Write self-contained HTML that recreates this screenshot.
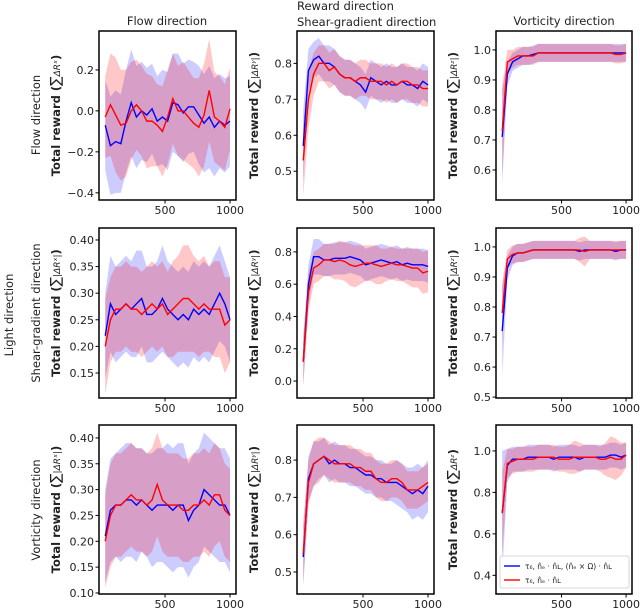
<!DOCTYPE html>
<html><head><meta charset="utf-8"><style>
body{margin:0;background:#fff}
svg{display:block;font-family:"DejaVu Sans","Liberation Sans",sans-serif}
</style></head><body>
<svg id="fig" width="640" height="608" viewBox="0 0 640 608"></svg>
<script>
const xs=[40,80,120,160,200,240,280,320,360,400,440,480,520,560,600,640,680,720,760,800,840,880,920,960,1000];
const xTicks=[500,1000];
// Panel 1: flow light / flow reward
const p1Blue=[-0.07,-0.17,-0.15,-0.16,-0.05,0.04,-0.03,0.0,-0.02,0.01,-0.05,-0.03,-0.05,0.04,0.03,-0.01,0.02,0.02,-0.02,-0.06,-0.03,-0.08,-0.05,-0.07,-0.05];
const p1Red=[-0.03,0.03,-0.02,-0.07,-0.06,0.0,0.03,0.0,-0.05,-0.05,-0.07,-0.1,-0.03,0.06,0.0,0.0,-0.03,-0.06,-0.08,-0.02,0.1,-0.03,-0.05,-0.08,0.01];
const p1BlueW=[0.22,0.24,0.25,0.24,0.25,0.26,0.25,0.24,0.23,0.22,0.22,0.23,0.24,0.24,0.25,0.24,0.23,0.22,0.24,0.24,0.25,0.24,0.23,0.23,0.22];
const p1RedW=[0.2,0.25,0.28,0.27,0.26,0.24,0.22,0.22,0.23,0.22,0.2,0.22,0.23,0.22,0.22,0.24,0.23,0.22,0.24,0.25,0.25,0.22,0.22,0.21,0.2];
const p2Blue=[0.57,0.78,0.81,0.82,0.8,0.8,0.79,0.77,0.76,0.76,0.75,0.74,0.72,0.76,0.75,0.74,0.75,0.74,0.74,0.75,0.74,0.74,0.73,0.75,0.74];
const p2Red=[0.53,0.7,0.77,0.8,0.8,0.78,0.79,0.77,0.76,0.76,0.75,0.76,0.76,0.75,0.75,0.75,0.74,0.75,0.74,0.75,0.75,0.74,0.74,0.73,0.73];
const p2BlueW=[0.1,0.06,0.05,0.05,0.05,0.05,0.05,0.05,0.05,0.05,0.05,0.05,0.05,0.05,0.05,0.05,0.05,0.05,0.05,0.05,0.05,0.05,0.05,0.05,0.05];
const p2RedW=[0.1,0.08,0.06,0.05,0.05,0.05,0.05,0.05,0.05,0.05,0.05,0.05,0.05,0.05,0.05,0.05,0.05,0.05,0.05,0.05,0.05,0.05,0.05,0.05,0.05];
const p3Blue=[0.71,0.92,0.96,0.97,0.98,0.98,0.985,0.99,0.99,0.99,0.99,0.99,0.99,0.99,0.99,0.99,0.99,0.99,0.99,0.99,0.99,0.99,0.99,0.99,0.99];
const p3Red=[0.73,0.96,0.97,0.98,0.98,0.98,0.98,0.99,0.99,0.99,0.99,0.99,0.99,0.99,0.99,0.99,0.99,0.99,0.99,0.99,0.99,0.99,0.985,0.985,0.99];
const p3BlueW=[0.16,0.04,0.03,0.03,0.03,0.03,0.03,0.03,0.03,0.03,0.03,0.03,0.03,0.03,0.03,0.03,0.03,0.03,0.03,0.03,0.03,0.03,0.03,0.03,0.03];
const p3RedW=[0.15,0.04,0.03,0.03,0.03,0.03,0.03,0.03,0.03,0.03,0.03,0.03,0.03,0.03,0.03,0.03,0.03,0.03,0.03,0.03,0.03,0.03,0.03,0.03,0.03];
const p4Blue=[0.22,0.28,0.26,0.27,0.28,0.27,0.28,0.29,0.26,0.26,0.27,0.29,0.27,0.26,0.25,0.26,0.25,0.27,0.26,0.27,0.26,0.28,0.3,0.28,0.25];
const p4Red=[0.2,0.25,0.27,0.27,0.28,0.27,0.27,0.26,0.27,0.28,0.27,0.28,0.26,0.27,0.28,0.29,0.29,0.28,0.27,0.28,0.27,0.27,0.27,0.24,0.25];
const p4BlueW=[0.08,0.09,0.09,0.09,0.09,0.09,0.1,0.09,0.09,0.09,0.09,0.1,0.09,0.09,0.09,0.09,0.09,0.09,0.09,0.09,0.09,0.09,0.09,0.08,0.08];
const p4RedW=[0.09,0.08,0.08,0.08,0.08,0.08,0.08,0.08,0.08,0.08,0.08,0.08,0.08,0.09,0.09,0.1,0.1,0.09,0.09,0.09,0.08,0.09,0.09,0.09,0.08];
const p5Blue=[0.12,0.6,0.77,0.77,0.75,0.75,0.76,0.76,0.76,0.77,0.76,0.75,0.72,0.73,0.74,0.75,0.74,0.73,0.74,0.72,0.73,0.72,0.72,0.72,0.71];
const p5Red=[0.12,0.55,0.7,0.72,0.75,0.75,0.74,0.75,0.74,0.72,0.71,0.72,0.73,0.73,0.72,0.71,0.72,0.73,0.72,0.72,0.71,0.7,0.7,0.67,0.68];
const p5BlueW=[0.15,0.12,0.11,0.11,0.1,0.1,0.1,0.1,0.1,0.1,0.1,0.1,0.1,0.1,0.1,0.1,0.1,0.1,0.1,0.1,0.1,0.1,0.1,0.1,0.1];
const p5RedW=[0.15,0.12,0.1,0.1,0.1,0.1,0.11,0.12,0.12,0.13,0.13,0.12,0.11,0.11,0.12,0.11,0.1,0.1,0.1,0.1,0.11,0.12,0.12,0.13,0.13];
const p6Blue=[0.72,0.93,0.97,0.98,0.98,0.985,0.99,0.99,0.99,0.99,0.99,0.99,0.99,0.99,0.99,0.985,0.99,0.99,0.99,0.99,0.99,0.99,0.985,0.99,0.99];
const p6Red=[0.78,0.96,0.975,0.98,0.98,0.985,0.99,0.99,0.99,0.99,0.99,0.99,0.99,0.99,0.99,0.99,0.985,0.99,0.99,0.99,0.99,0.99,0.99,0.99,0.99];
const p6BlueW=[0.15,0.04,0.03,0.03,0.03,0.03,0.03,0.03,0.03,0.03,0.03,0.03,0.03,0.03,0.03,0.03,0.03,0.03,0.03,0.03,0.03,0.03,0.03,0.03,0.03];
const p6RedW=[0.1,0.03,0.03,0.03,0.03,0.03,0.03,0.03,0.03,0.03,0.03,0.03,0.03,0.03,0.03,0.04,0.05,0.03,0.03,0.03,0.03,0.03,0.03,0.03,0.03];
const p7Blue=[0.21,0.26,0.27,0.27,0.28,0.28,0.27,0.28,0.27,0.26,0.27,0.27,0.27,0.26,0.27,0.27,0.24,0.26,0.27,0.3,0.29,0.28,0.27,0.27,0.25];
const p7Red=[0.2,0.25,0.27,0.27,0.28,0.29,0.28,0.28,0.27,0.28,0.31,0.28,0.27,0.27,0.27,0.26,0.26,0.27,0.27,0.28,0.27,0.29,0.29,0.26,0.25];
const p7BlueW=[0.09,0.1,0.1,0.11,0.11,0.11,0.11,0.1,0.1,0.11,0.11,0.11,0.12,0.12,0.12,0.12,0.11,0.11,0.11,0.11,0.11,0.11,0.11,0.11,0.11];
const p7RedW=[0.09,0.1,0.1,0.1,0.1,0.1,0.1,0.1,0.1,0.1,0.1,0.1,0.1,0.1,0.1,0.1,0.1,0.1,0.1,0.1,0.1,0.1,0.09,0.09,0.09];
const p8Blue=[0.54,0.75,0.79,0.8,0.81,0.79,0.8,0.79,0.79,0.78,0.78,0.77,0.76,0.76,0.75,0.75,0.74,0.74,0.74,0.73,0.72,0.71,0.72,0.71,0.73];
const p8Red=[0.55,0.74,0.79,0.8,0.81,0.8,0.79,0.79,0.79,0.79,0.78,0.78,0.77,0.77,0.75,0.74,0.74,0.75,0.75,0.74,0.72,0.72,0.72,0.73,0.74];
const p8BlueW=[0.08,0.06,0.06,0.05,0.05,0.05,0.05,0.05,0.05,0.05,0.05,0.05,0.05,0.05,0.05,0.05,0.05,0.05,0.06,0.06,0.06,0.07,0.07,0.07,0.07];
const p8RedW=[0.08,0.06,0.06,0.06,0.05,0.05,0.05,0.05,0.05,0.05,0.05,0.05,0.05,0.05,0.05,0.05,0.05,0.05,0.05,0.05,0.05,0.05,0.05,0.05,0.05];
const p9Blue=[0.7,0.93,0.96,0.96,0.96,0.97,0.97,0.97,0.97,0.97,0.96,0.97,0.97,0.97,0.97,0.96,0.97,0.97,0.97,0.97,0.97,0.98,0.98,0.97,0.98];
const p9Red=[0.7,0.94,0.95,0.96,0.96,0.96,0.96,0.97,0.97,0.97,0.97,0.96,0.96,0.96,0.97,0.97,0.97,0.97,0.97,0.96,0.96,0.97,0.96,0.96,0.98];
const p9BlueW=[0.3,0.08,0.06,0.06,0.06,0.06,0.06,0.06,0.06,0.06,0.06,0.06,0.06,0.06,0.06,0.06,0.06,0.06,0.06,0.06,0.06,0.06,0.06,0.06,0.06];
const p9RedW=[0.2,0.07,0.06,0.06,0.06,0.06,0.06,0.06,0.06,0.06,0.06,0.06,0.06,0.07,0.08,0.07,0.06,0.06,0.06,0.06,0.08,0.1,0.1,0.08,0.06];
const p1Ticks=[0.2,0.0,-0.2,-0.4], p2Ticks=[0.8,0.7,0.6,0.5], p3Ticks=[1.0,0.9,0.8,0.7,0.6];
const p4Ticks=[0.40,0.35,0.30,0.25,0.20,0.15], p5Ticks=[0.8,0.6,0.4,0.2,0.0], p6Ticks=[1.0,0.9,0.8,0.7,0.6,0.5];
const p7Ticks=[0.40,0.35,0.30,0.25,0.20,0.15,0.10], p8Ticks=[0.8,0.7,0.6,0.5], p9Ticks=[1.0,0.8,0.6,0.4];

const NS='http://www.w3.org/2000/svg';
const svg=document.getElementById('fig');
function mk(tag,attrs,parent){const e=document.createElementNS(NS,tag);for(const k in attrs)e.setAttribute(k,attrs[k]);(parent||svg).appendChild(e);return e;}
function txt(s,attrs,parent){const e=mk('text',attrs,parent);e.textContent=s;return e;}

const cols=[{l:99,r:236},{l:297,r:434},{l:496,r:632}];
const rows=[{t:31,b:200},{t:228,b:398},{t:425,b:594}];
const panels=[
 {r:0,c:0,y0:-0.435,y1:0.39,blue:p1Blue,red:p1Red,bw:p1BlueW,rw:p1RedW,ticks:p1Ticks,dec:1,sup:'ˣ',abs:false},
 {r:0,c:1,y0:0.42,y1:0.89,blue:p2Blue,red:p2Red,bw:p2BlueW,rw:p2RedW,ticks:p2Ticks,dec:1,sup:'ʸ',abs:true},
 {r:0,c:2,y0:0.50,y1:1.063,blue:p3Blue,red:p3Red,bw:p3BlueW,rw:p3RedW,ticks:p3Ticks,dec:1,sup:'ᶻ',abs:true},
 {r:1,c:0,y0:0.103,y1:0.4225,blue:p4Blue,red:p4Red,bw:p4BlueW,rw:p4RedW,ticks:p4Ticks,dec:2,sup:'ˣ',abs:true},
 {r:1,c:1,y0:-0.105,y1:0.948,blue:p5Blue,red:p5Red,bw:p5BlueW,rw:p5RedW,ticks:p5Ticks,dec:1,sup:'ʸ',abs:true},
 {r:1,c:2,y0:0.497,y1:1.063,blue:p6Blue,red:p6Red,bw:p6BlueW,rw:p6RedW,ticks:p6Ticks,dec:1,sup:'ᶻ',abs:true},
 {r:2,c:0,y0:0.098,y1:0.425,blue:p7Blue,red:p7Red,bw:p7BlueW,rw:p7RedW,ticks:p7Ticks,dec:2,sup:'ˣ',abs:true},
 {r:2,c:1,y0:0.441,y1:0.894,blue:p8Blue,red:p8Red,bw:p8BlueW,rw:p8RedW,ticks:p8Ticks,dec:1,sup:'ʸ',abs:true},
 {r:2,c:2,y0:0.31,y1:1.125,blue:p9Blue,red:p9Red,bw:p9BlueW,rw:p9RedW,ticks:p9Ticks,dec:1,sup:'ᶻ',abs:false}
];
const xMin=-8,xMax=1046;
panels.forEach((p,i)=>{
  const C=cols[p.c],R=rows[p.r];
  const X=v=>C.l+(v-xMin)/(xMax-xMin)*(C.r-C.l);
  const Y=v=>R.b-(v-p.y0)/(p.y1-p.y0)*(R.b-R.t);
  const g=mk('g',{});
  
  
  const cp='cp'+i;
  const cl=mk('clipPath',{id:cp},g);mk('rect',{x:C.l,y:R.t,width:C.r-C.l,height:R.b-R.t},cl);
  const inner=mk('g',{'clip-path':'url(#'+cp+')'},g);
  [['blue',p.blue,p.bw,'rgba(0,0,255,0.2)','#0000ff'],['red',p.red,p.rw,'rgba(255,0,0,0.22)','#ff0000']].forEach(s=>{
    let up=s[1].map((v,k)=>X(xs[k])+','+Y(v+s[2][k]));
    let dn=s[1].map((v,k)=>X(xs[k])+','+Y(v-s[2][k])).reverse();
    const band=mk('polygon',{points:up.concat(dn).join(' '),fill:s[3],stroke:'none'},inner);
    
    
  });
  [['blue',p.blue,'#0000ff'],['red',p.red,'#ff0000']].forEach(s=>{
    const line=mk('polyline',{points:s[1].map((v,k)=>X(xs[k])+','+Y(v)).join(' '),fill:'none',stroke:s[2],'stroke-width':1.4},inner);
    
    
  });
  const frame=mk('rect',{x:C.l,y:R.t,width:C.r-C.l,height:R.b-R.t,fill:'none',stroke:'#000','stroke-width':1.5},g);
  
  
  xTicks.forEach(t=>{
    mk('line',{x1:X(t),x2:X(t),y1:R.b,y2:R.b+3.5,stroke:'#000','stroke-width':1},g);
    const tl=txt(String(t),{x:X(t),y:R.b+14,'font-size':11,'text-anchor':'middle',fill:'#222'},g);
    
    
  });
  p.ticks.forEach(t=>{
    mk('line',{x1:C.l-3.5,x2:C.l,y1:Y(t),y2:Y(t),stroke:'#000','stroke-width':1},g);
    const s=(t<0?'\u2212':'')+Math.abs(t).toFixed(p.dec);
    const tl=txt(s,{x:C.l-5,y:Y(t)+4,'font-size':11,'text-anchor':'end',fill:'#222'},g);
    
    
  });
  const yt=mk('text',{transform:'translate('+(C.l-39)+','+((R.t+R.b)/2)+') rotate(-90)','text-anchor':'middle','font-size':11.5,'font-weight':'bold',fill:'#222'},g);
  
  
  const a=document.createElementNS(NS,'tspan');a.textContent='Total reward (';yt.appendChild(a);
  const b=document.createElementNS(NS,'tspan');b.setAttribute('font-weight','normal');b.setAttribute('font-size','14');b.textContent='∑';yt.appendChild(b);
  const c=document.createElementNS(NS,'tspan');c.setAttribute('font-weight','normal');c.setAttribute('font-size','9');c.setAttribute('font-style','italic');c.textContent=(p.abs?'|':'')+'ΔR'+p.sup+(p.abs?'|':'');yt.appendChild(c);
  const d=document.createElementNS(NS,'tspan');d.textContent=')';yt.appendChild(d);
});
</script>
<svg width="0" height="0"></svg>
<script>
(function(){
const NS='http://www.w3.org/2000/svg';const svg=document.getElementById('fig');
function t(s,a,name){const e=document.createElementNS(NS,'text');for(const k in a)e.setAttribute(k,a[k]);e.textContent=s;e.setAttribute('fill','#222');svg.appendChild(e);return e;}
t('Reward direction',{x:297,y:10,'font-size':11.5},'reward-direction-title');
t('Flow direction',{x:167,y:25,'font-size':11.5,'text-anchor':'middle'},'col-title-flow');
t('Shear-gradient direction',{x:297,y:26,'font-size':11.5},'col-title-shear');
t('Vorticity direction',{x:564,y:25,'font-size':11.5,'text-anchor':'middle'},'col-title-vorticity');
t('Light direction',{transform:'translate(13,315) rotate(-90)','font-size':11.5,'text-anchor':'middle'},'light-direction-title');
t('Flow direction',{transform:'translate(40,115) rotate(-90)','font-size':11.5,'text-anchor':'middle'},'row-title-flow');
t('Shear-gradient direction',{transform:'translate(40,313) rotate(-90)','font-size':11.5,'text-anchor':'middle'},'row-title-shear');
t('Vorticity direction',{transform:'translate(40,510) rotate(-90)','font-size':11.5,'text-anchor':'middle'},'row-title-vorticity');
const lg=document.createElementNS(NS,'g');svg.appendChild(lg);
const r=document.createElementNS(NS,'rect');[['x',500],['y',556],['width',129],['height',32],['rx',2],['fill','rgba(255,255,255,0.85)'],['stroke','#ccc'],['stroke-width',0.8]].forEach(k=>r.setAttribute(k[0],k[1]));lg.appendChild(r);
[[566,'#0000ff','τ₆, n̂ₑ · n̂ʟ, (n̂ₑ × Ω) · n̂ʟ','legend-entry-blue'],[580,'#ff0000','τ₆, n̂ₑ · n̂ʟ','legend-entry-red']].forEach(e=>{
 const l=document.createElementNS(NS,'line');[['x1',504],['x2',520],['y1',e[0]],['y2',e[0]],['stroke',e[1]],['stroke-width',1.4]].forEach(k=>l.setAttribute(k[0],k[1]));lg.appendChild(l);
 const tx=document.createElementNS(NS,'text');tx.setAttribute('x',525);tx.setAttribute('y',e[0]+3);tx.setAttribute('font-size',7.5);tx.setAttribute('fill','#222');tx.textContent=e[2];
 
 
 lg.appendChild(tx);
});
})();
</script>
</body></html>
